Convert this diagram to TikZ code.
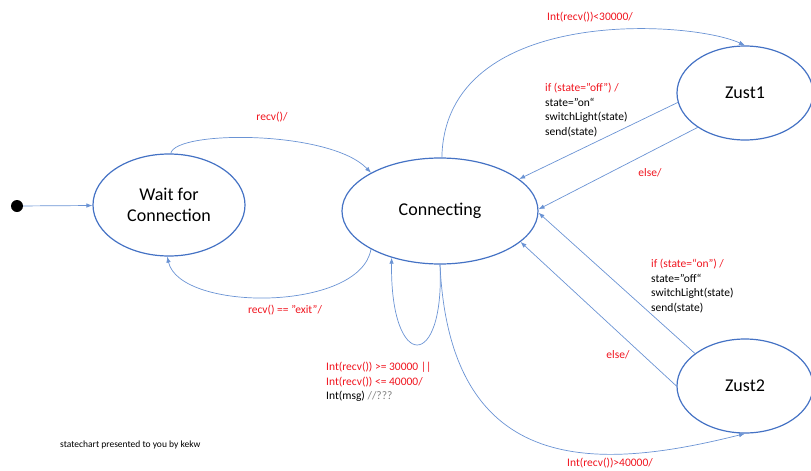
\documentclass[tikz,border=0pt]{standalone}
\usepackage{fontspec}
\setmainfont{Carlito}
\usepackage{xcolor}
\usetikzlibrary{arrows.meta,shapes.geometric}
\definecolor{stateblue}{HTML}{4472C4}
\definecolor{edgeblue}{HTML}{6A93D4}
\definecolor{labelred}{HTML}{F0141E}
\begin{document}
\begin{tikzpicture}[x=1pt,y=-1pt,>={Latex[length=6pt,width=4.5pt]},
    state/.style={ellipse,draw=stateblue,line width=1.2pt,inner sep=0pt,
        align=center,font=\fontsize{18}{21}\selectfont},
    trans/.style={->,draw=edgeblue,line width=0.7pt},
    lbl/.style={inner sep=1pt,text=labelred,font=\fontsize{11.5}{14.5}\selectfont},
    act/.style={inner sep=1pt,align=left,anchor=west,font=\fontsize{11.5}{14.5}\selectfont}]
    \useasboundingbox (0,0) rectangle (811,471);

    \node[circle,fill=black,inner sep=0pt,minimum size=12pt] (init) at (17,206) {};
    \node[state,minimum width=152pt,minimum height=102pt] (wait) at (169,205) {Wait for\\Connection};
    \node[state,minimum width=196pt,minimum height=106pt] (conn) at (440,211) {Connecting};
    \node[state,minimum width=136pt,minimum height=94pt] (zust1) at (745,93) {Zust1};
    \node[state,minimum width=136pt,minimum height=94pt] (zust2) at (745,386) {Zust2};

    \draw[trans] (init) -- (wait);

    \draw[trans] (wait.88) .. controls (175,130) and (330,130) .. (conn.151);
    \node[lbl] (lrecv) at (272,117) {recv()/};

    \draw[trans] (conn.209) .. controls (360,312) and (180,312) .. (wait.268);
    \node[lbl] (lexit) at (285,310) {recv() == "exit"/};

    \draw[trans] (conn.88) .. controls (445,5) and (690,20) .. (zust1.north);
    \node[lbl] (llow) at (590,17) {Int(recv())<30000/};

    \draw[trans] (zust1.188) -- (conn.22);
    \node[act] (aoff) at (544,110) {\textcolor{labelred}{if (state="off") /}\\state="on“\\switchLight(state)\\send(state)};

    \draw[trans] (zust1.216) -- (conn.1);
    \node[lbl] (lelse1) at (650,173) {else/};

    \draw[trans] (zust2.147) -- (conn.-1);
    \node[act] (aon) at (650,286) {\textcolor{labelred}{if (state=“on") /}\\state="off“\\switchLight(state)\\send(state)};

    \draw[trans] (zust2.west) -- (conn.-21);
    \node[lbl] (lelse2) at (618,355) {else/};

    \draw[trans] (conn.270) .. controls (445,372) and (390,372) .. (conn.224);
    \node[act] (aloop) at (325,382) {\textcolor{labelred}{Int(recv()) >= 30000 ||}\\\textcolor{labelred}{Int(recv()) <= 40000/}\\Int(msg) \textcolor{gray}{//???}};

    \draw[trans] (conn.270) .. controls (450,480) and (600,470) .. (zust2.south);
    \node[lbl] (lhigh) at (610,463) {Int(recv())>40000/};

    \node[inner sep=0pt,anchor=west,font=\fontsize{9.5}{11}\selectfont] (credit) at (60,445) {statechart presented to you by kekw};
\end{tikzpicture}
\end{document}
